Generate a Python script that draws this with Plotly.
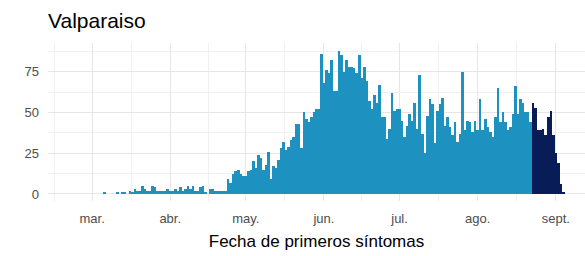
import datetime as dt
import plotly.graph_objects as go

# Daily cases by date of first symptoms (Mar 1 .. Sep 4, 2020)
start_date = "2020-03-01"
mar = [0,0,0,0,0,1,0,0,0,0,1,0,1,1,0,2,1,3,2,2,5,3,2,2,5,4,2,2,2,2,3]
apr = [2,2,3,2,4,2,3,5,3,5,2,2,4,5,1,0,3,3,2,2,2,2,2,9,7,12,14,15,12,11]
may = [11,14,15,20,16,24,22,15,18,26,9,17,16,21,28,32,27,29,33,35,43,43,28,50,46,44,47,50,52,52,86]
jun = [68,76,74,82,63,63,88,85,75,82,78,78,77,74,85,71,78,69,57,52,61,56,67,47,47,34,40,62,51,52]
jul = [52,45,35,42,49,45,56,40,73,37,25,48,58,55,31,51,55,59,42,47,41,36,44,32,37,75,39,45,44,38,45]
aug = [39,58,39,46,41,38,35,47,65,44,50,44,39,41,49,66,49,58,56,50,50,44,
       56,53,39,39,40,36,47,51,36]
sep = [25,19,6,1]
values = mar + apr + may + jun + jul + aug + sep
n_recent = 13  # last days shown in dark colour (incomplete data)

tick_dates = ["2020-03-01","2020-04-01","2020-05-01","2020-06-01","2020-07-01","2020-08-01","2020-09-01"]
tick_text = ["mar.","abr.","may.","jun.","jul.","ago.","sept."]
minor_dates = ["2020-02-15","2020-03-16 12:00","2020-04-16","2020-05-16 12:00","2020-06-16",
               "2020-07-16 12:00","2020-08-16 12:00","2020-09-16"]
y_ticks = [0, 25, 50, 75]

d0 = dt.date.fromisoformat(start_date)
dates = [d0 + dt.timedelta(days=i) for i in range(len(values))]
colors = ["#1d91c0"] * (len(values) - n_recent) + ["#081d58"] * n_recent

fig = go.Figure(go.Bar(x=dates, y=values, marker=dict(color=colors, line=dict(width=0)),
                       hoverinfo="x+y"))

font = "Liberation Sans, Arial, sans-serif"
fig.update_layout(
    width=585, height=256,
    margin=dict(l=48, r=0, t=43, b=55),
    paper_bgcolor="white", plot_bgcolor="white",
    bargap=0,
    showlegend=False,
    font=dict(family=font, color="#4d4d4d", size=13),
    title=dict(text="Valparaiso", x=0, xref="paper", xanchor="left",
               y=0.92, yref="container", yanchor="middle",
               font=dict(size=21, color="#000000", family=font)),
)
fig.update_xaxes(
    type="date",
    range=["2020-02-12 12:00", "2020-09-12 14:00"],
    tickmode="array", tickvals=tick_dates, ticktext=tick_text,
    showgrid=True, gridcolor="#e6e6e6", gridwidth=1,
    minor=dict(tickmode="array", tickvals=minor_dates, showgrid=True,
               gridcolor="#f0f0f0", gridwidth=1),
    zeroline=False, showline=False, ticks="",
    ticklabelstandoff=8,
    tickfont=dict(size=13, color="#4d4d4d"),
    title=dict(text="Fecha de primeros síntomas", standoff=10,
               font=dict(size=17, color="#000000", family=font)),
)
fig.update_yaxes(
    range=[-4.3, 92.6],
    tickmode="array", tickvals=y_ticks,
    showgrid=True, gridcolor="#e6e6e6", gridwidth=1,
    minor=dict(tickmode="array", tickvals=[12.5, 37.5, 62.5, 87.5], showgrid=True,
               gridcolor="#f0f0f0", gridwidth=1),
    zeroline=False, showline=False, ticks="",
    ticklabelstandoff=8,
    tickfont=dict(size=13, color="#4d4d4d"),
)

fig.write_html("out.html", config={"displayModeBar": False},
               post_script="document.body.style.margin='0';")
